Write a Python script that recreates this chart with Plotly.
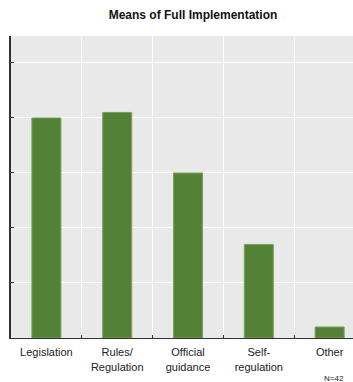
import plotly.graph_objects as go

# Means of full implementation, bar values
categories = ["Legislation", "Rules/<br>Regulation", "Official<br>guidance", "Self-<br>regulation", "Other"]
values = [40, 41, 30, 17, 2]
y_ticks = [10, 20, 30, 40, 50]

bar_color = "#538135"
bar_edge = "#78a35a"

fig = go.Figure(
    go.Bar(
        x=categories,
        y=values,
        width=0.41,
        marker=dict(color=bar_color, line=dict(color=bar_edge, width=1)),
    )
)

fig.update_layout(
    width=353,
    height=382,
    margin=dict(l=11, r=0, t=36, b=44),
    paper_bgcolor="white",
    plot_bgcolor="#e9e9e9",
    showlegend=False,
    title=dict(
        text="<b>Means of Full Implementation</b>",
        x=193 / 353,
        xanchor="center",
        y=1 - 15 / 382,
        yanchor="middle",
        font=dict(family="Liberation Sans, Arial", size=12, color="#111"),
    ),
    font=dict(family="Liberation Sans, Arial", size=11, color="#222"),
    bargap=0.59,
)

fig.update_xaxes(
    type="category",
    range=[-0.5, 4.33],
    tickson="boundaries",
    ticks="inside",
    ticklen=3,
    tickcolor="#333",
    ticklabelstandoff=4,
    showgrid=True,
    gridcolor="white",
    gridwidth=1,
    showline=True,
    linecolor="#333",
    linewidth=1,
    tickfont=dict(size=11, color="#222"),
)

fig.update_yaxes(
    range=[0, 54.9],
    tickvals=y_ticks,
    showticklabels=False,
    ticks="inside",
    ticklen=3,
    tickcolor="#333",
    showgrid=True,
    gridcolor="white",
    gridwidth=1,
    showline=True,
    linecolor="#333",
    linewidth=1.5,
    zeroline=False,
)

fig.add_annotation(
    text="N=42",
    x=333 / 353,
    y=-40 / 302,
    xref="paper",
    yref="paper",
    xanchor="center",
    yanchor="middle",
    showarrow=False,
    font=dict(size=8, color="#222"),
)

fig.write_html("out.html")
